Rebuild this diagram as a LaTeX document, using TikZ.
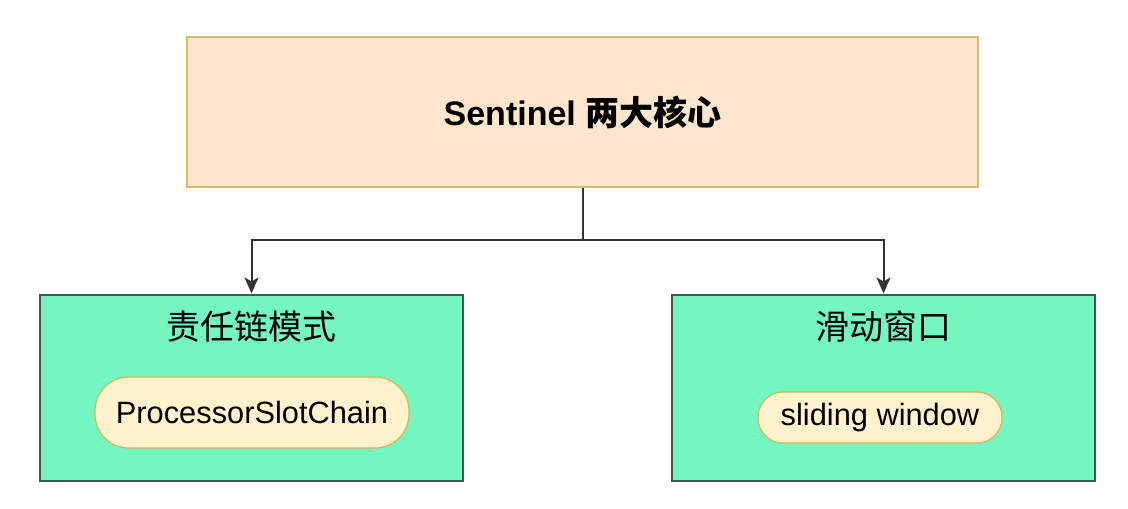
\documentclass[tikz,border=0pt]{standalone}
\usepackage{fontspec}
\setmainfont{Liberation Sans}
\newfontfamily\cjk{Noto Sans CJK SC}
\usepackage{tikz}
\usetikzlibrary{positioning,arrows.meta}
\usepackage{xcolor}
\definecolor{peach}{HTML}{FDE6CC}
\definecolor{peachline}{HTML}{DDBB6E}
\definecolor{mint}{HTML}{73F6C0}
\definecolor{mintline}{HTML}{3E5A4C}
\definecolor{cream}{HTML}{FFF2CC}
\definecolor{creamline}{HTML}{D6B656}

\begin{document}
\begin{tikzpicture}[x=0.5pt,y=-0.5pt,
  corebox/.style={draw=peachline,fill=peach,line width=1pt,minimum width=395.5pt,minimum height=75pt,font=\fontsize{17}{20}\selectfont\bfseries},
  partbox/.style={draw=mintline,fill=mint,line width=1pt,minimum width=211.5pt,minimum height=93pt},
  pill/.style={draw=creamline,fill=cream,line width=0.6pt,rounded corners=17pt,font=\fontsize{15.4}{18}\selectfont},
  link/.style={draw=black!80,line width=1pt,-{Stealth[length=8pt,width=7pt,inset=2pt]}}]
\useasboundingbox (0,0) rectangle (1128,508);
\node (core) [corebox] at (582.5,112) {Sentinel {\cjk 两大核心}};
\node (chain) [partbox] at (251.5,387.5) {};
\node (win) [partbox] at (883.5,387.5) {};
\node (chaintitle) at (251.5,327) {\fontsize{17}{20}\selectfont\cjk 责任链模式};
\node (wintitle) at (883.5,327) {\fontsize{17}{20}\selectfont\cjk 滑动窗口};
\node (slot) [pill,minimum width=157pt,minimum height=35.5pt] at (252,412.5) {ProcessorSlotChain};
\node (slide) [pill,minimum width=122pt,minimum height=25.5pt,rounded corners=12.5pt] at (880,417.5) {sliding window};
\coordinate (split) at (582.5,240);
\draw[link] (core.south) -- (split) -| (chain.north);
\draw[link] (split) -| (win.north);
\end{tikzpicture}
\end{document}
